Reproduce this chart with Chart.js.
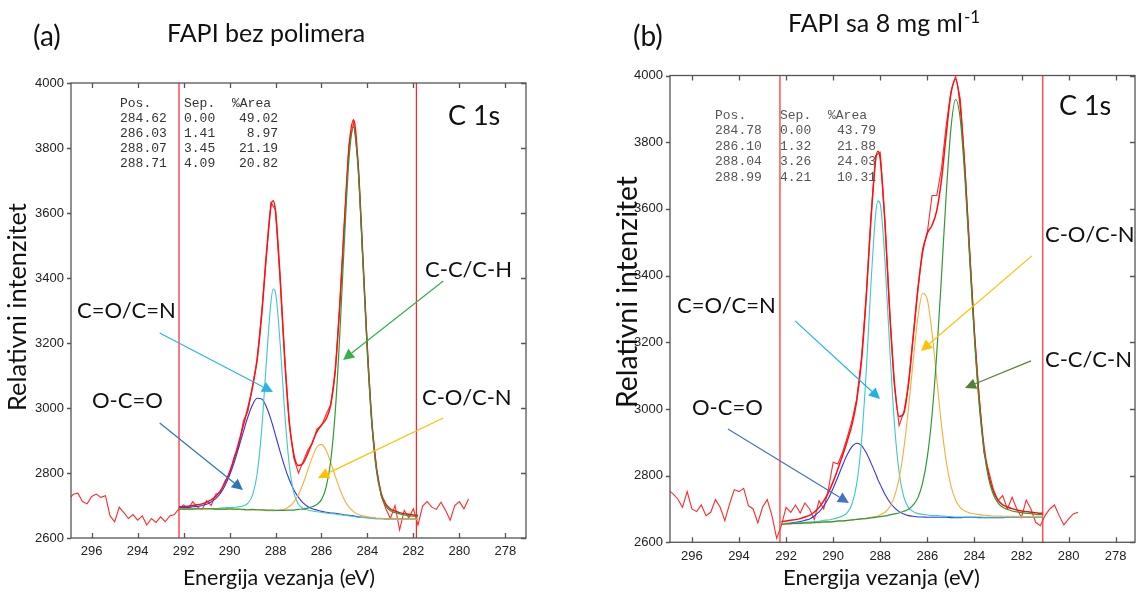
<!DOCTYPE html>
<html>
<head>
<meta charset="utf-8">
<script src="https://cdn.jsdelivr.net/npm/chart.js@4.4.1/dist/chart.umd.min.js"></script>
<style>
  html, body { margin: 0; padding: 0; background: #fff; }
  #wrap { position: relative; width: 1136px; height: 592px; overflow: hidden; }
  #wrap canvas { position: absolute; top: 0; }
</style>
</head>
<body>
<div id="wrap">
  <canvas id="chartA" width="560" height="592" style="left:0px"></canvas>
  <canvas id="chartB" width="536" height="592" style="left:600px"></canvas>
</div>
<script>
// ---- data (a) FAPI bez polimera ----
const energyA = [292.2,292.0,291.8,291.6,291.4,291.2,291.0,290.8,290.6,290.4,290.2,290.0,289.8,289.6,289.4,289.2,289.0,288.8,288.6,288.4,288.2,288.1,288.0,287.8,287.6,287.4,287.2,287.0,286.8,286.6,286.4,286.2,286.0,285.8,285.6,285.4,285.2,285.0,284.8,284.6,284.4,284.2,284.0,283.8,283.6,283.4,283.2,283.0,282.8,282.6,282.4,282.2,282.0,281.8];
const greenA = [2689,2689,2689,2689,2690,2690,2690,2690,2689,2689,2689,2690,2689,2689,2688,2687,2688,2687,2687,2686,2686,2686,2685,2685,2685,2686,2686,2688,2689,2692,2696,2703,2718,2756,2836,2989,3230,3519,3768,3864,3729,3453,3166,2943,2803,2731,2698,2684,2678,2674,2671,2669,2667,2666];
const orangeA = [2689,2689,2689,2689,2689,2689,2689,2689,2688,2688,2688,2688,2687,2688,2687,2686,2686,2686,2685,2684,2684,2684,2684,2686,2689,2697,2711,2734,2767,2808,2848,2880,2888,2870,2833,2790,2750,2717,2695,2681,2672,2668,2665,2663,2661,2661,2659,2659,2659,2659,2658,2658,2658,2658];
const cyanA = [2690,2690,2690,2690,2690,2691,2691,2691,2691,2692,2693,2694,2694,2696,2699,2707,2732,2797,2935,3139,3325,3366,3355,3200,2986,2824,2738,2704,2691,2686,2683,2681,2679,2677,2675,2674,2672,2670,2668,2666,2664,2663,2662,2660,2659,2659,2658,2658,2658,2658,2658,2658,2658,2658];
const blueA = [2693,2694,2694,2696,2697,2700,2704,2711,2721,2737,2761,2793,2832,2879,2927,2973,3010,3030,3028,3004,2965,2941,2916,2866,2819,2779,2748,2725,2708,2697,2690,2686,2682,2679,2677,2676,2674,2671,2670,2668,2665,2664,2663,2662,2660,2660,2659,2659,2659,2659,2659,2658,2658,2658];
const envelopeA = [2696,2697,2698,2700,2702,2705,2710,2717,2728,2745,2770,2803,2844,2894,2946,3001,3064,3151,3288,3471,3620,3638,3604,3403,3149,2957,2856,2823,2830,2859,2894,2927,2948,2966,3009,3118,3319,3576,3804,3887,3744,3465,3175,2951,2810,2737,2704,2689,2683,2678,2675,2673,2671,2670];
const rawA = [2718,2735,2738,2712,2705,2728,2735,2725,2730,2668,2650,2695,2678,2660,2672,2655,2668,2640,2660,2648,2665,2650,2668,2672,2690,
  2702,2690,2712,2695,2688,2715,2700,2735,2740,2775,2795,2850,2880,2960,2990,3070,3145,3295,3465,3632,3610,3395,3155,2950,2845,2800,2835,2870,2890,2935,
  2945,2980,3010,3110,3325,3570,3810,3880,3750,3460,3180,2945,2815,2730,2690,2660,2700,2625,2685,2662,2690,2640,
  2698,2712,2695,2688,2710,2685,2655,2700,2712,2690,2720];
const regionA = [292.2, 281.87];
const posA = ['284.62', '286.03', '288.07', '288.71'];
const sepA = ['0.00', '1.41', '3.45', '4.09'];
const areaA = ['49.02', '8.97', '21.19', '20.82'];

// ---- data (b) FAPI sa 8 mg ml-1 ----
const energyB = [292.2,292.0,291.8,291.6,291.4,291.2,291.0,290.8,290.6,290.4,290.2,290.0,289.8,289.6,289.4,289.2,289.0,288.8,288.6,288.4,288.2,288.1,288.0,287.8,287.6,287.4,287.2,287.0,286.8,286.6,286.4,286.2,286.0,285.8,285.6,285.4,285.2,285.0,284.8,284.6,284.4,284.2,284.0,283.8,283.6,283.4,283.2,283.0,282.8,282.6,282.4,282.2,282.0,281.8,281.6,281.4,281.2,281.1];
const greenB = [2654,2655,2656,2657,2657,2658,2658,2659,2660,2661,2661,2662,2664,2664,2666,2667,2669,2670,2671,2673,2675,2676,2677,2679,2682,2685,2688,2693,2699,2712,2734,2778,2856,2982,3166,3396,3641,3840,3928,3868,3688,3447,3212,3016,2879,2792,2744,2718,2705,2699,2694,2691,2689,2687,2686,2684,2683,2683];
const orangeB = [2654,2655,2655,2656,2656,2657,2657,2659,2659,2660,2660,2662,2663,2664,2665,2667,2669,2671,2672,2675,2678,2679,2683,2690,2706,2737,2791,2880,3002,3145,3274,3346,3328,3228,3090,2953,2844,2770,2727,2704,2694,2688,2685,2683,2681,2680,2679,2679,2678,2678,2678,2678,2677,2677,2677,2677,2676,2676];
const cyanB = [2655,2656,2656,2658,2658,2660,2661,2662,2663,2666,2667,2670,2674,2679,2689,2715,2775,2900,3107,3367,3580,3624,3614,3444,3186,2958,2810,2736,2704,2692,2686,2684,2682,2680,2680,2679,2678,2677,2676,2676,2676,2676,2676,2676,2675,2675,2675,2675,2675,2675,2675,2675,2675,2675,2675,2675,2675,2675];
const blueB = [2656,2657,2658,2660,2662,2666,2670,2679,2691,2709,2732,2762,2796,2831,2863,2887,2897,2891,2869,2839,2806,2788,2773,2744,2721,2704,2692,2685,2680,2678,2676,2676,2675,2675,2675,2675,2675,2674,2674,2674,2675,2675,2675,2674,2674,2674,2674,2674,2674,2675,2675,2675,2675,2675,2675,2675,2675,2675];
const envelopeB = [2662,2664,2666,2668,2671,2676,2681,2691,2704,2724,2749,2782,2820,2860,2904,2953,3024,3143,3330,3562,3743,3773,3749,3558,3294,3080,2977,2987,3078,3216,3360,3471,3527,3551,3595,3687,3821,3945,3989,3906,3714,3467,3228,3030,2891,2803,2753,2727,2712,2706,2701,2697,2694,2692,2690,2689,2687,2687];
const rawB = [2757,2745,2730,2705,2752,2700,2692,2712,2680,2690,2728,2705,2665,2715,2758,2752,2762,2710,2700,2658,2705,2728,2680,2612,
  2650,2705,2690,2712,2688,2718,2700,2668,2725,2700,2760,2840,2835,2870,2915,2965,3030,3150,3335,3570,
  3760,3770,3560,3290,3070,2950,2990,3070,3220,3360,3480,3530,3640,3640,3720,3850,3950,3998,3930,3720,
  3470,3230,3040,2870,2815,2760,2725,2740,2700,2735,2700,2675,2727,2700,2660,2650,
  2680,2700,2712,2680,2652,2670,2685,2690];
const regionB = [292.26, 281.1];
const posB = ['284.78', '286.10', '288.04', '288.99'];
const sepB = ['0.00', '1.32', '3.26', '4.21'];
const areaB = ['43.79', '21.88', '24.03', '10.31'];

// raw spectra are sampled every 0.2 eV from 297.0 eV
const rawEnergy = [];
for (let k = 0; k < 88; k++) rawEnergy.push(+(297 - 0.2 * k).toFixed(1));

const LABEL_FONT = 'Lato, "Open Sans", sans-serif';

function pts(xs, ys) { return ys.map((v, i) => ({ x: xs[i], y: v })); }
function vline(e) { return [{ x: e, y: 2600 }, { x: e, y: 4000 }]; }

// label text: either a fixed size or squeezed to a given width
function drawText(ctx, t) {
  let size = t.size;
  if (!size) {
    ctx.font = '20px ' + LABEL_FONT;
    size = 20 * t.w / ctx.measureText(t.text).width;
  }
  ctx.font = size.toFixed(2) + 'px ' + LABEL_FONT;
  ctx.fillStyle = '#111';
  ctx.textAlign = t.align || 'left';
  ctx.textBaseline = 'alphabetic';
  ctx.fillText(t.text, t.x, t.y);
  if (t.sup) {
    const w = ctx.measureText(t.text).width;
    ctx.font = t.sup.size + 'px ' + LABEL_FONT;
    ctx.textAlign = 'left';
    ctx.fillText(t.sup.text, t.x + w + 1, t.y + t.sup.dy);
  }
}

function arrow(ctx, x0, y0, x1, y1, color) {
  const ang = Math.atan2(y1 - y0, x1 - x0);
  const len = 11, half = 5.5;
  const bx = x1 - len * Math.cos(ang), by = y1 - len * Math.sin(ang);
  ctx.strokeStyle = color; ctx.fillStyle = color; ctx.lineWidth = 1.2;
  ctx.beginPath(); ctx.moveTo(x0, y0); ctx.lineTo(bx, by); ctx.stroke();
  ctx.beginPath();
  ctx.moveTo(x1, y1);
  ctx.lineTo(bx + half * Math.sin(ang), by - half * Math.cos(ang));
  ctx.lineTo(bx - half * Math.sin(ang), by + half * Math.cos(ang));
  ctx.closePath(); ctx.fill();
}

function decorPlugin(p) {
  return {
    id: 'decor',
    afterDraw(chart) {
      const ctx = chart.ctx, a = chart.chartArea;
      const xs = chart.scales.x, ys = chart.scales.y;
      ctx.save();
      // box with inward ticks (left ticks point out)
      ctx.strokeStyle = '#555'; ctx.lineWidth = 1.3;
      ctx.strokeRect(a.left, a.top, a.right - a.left, a.bottom - a.top);
      ctx.beginPath();
      xs.ticks.forEach(t => {
        const px = Math.round(xs.getPixelForValue(t.value)) + 0.5;
        ctx.moveTo(px, a.bottom); ctx.lineTo(px, a.bottom - 5);
        ctx.moveTo(px, a.top); ctx.lineTo(px, a.top + 5);
      });
      ys.ticks.forEach(t => {
        const py = Math.round(ys.getPixelForValue(t.value)) + 0.5;
        ctx.moveTo(a.left - 4, py); ctx.lineTo(a.left, py);
        ctx.moveTo(a.right, py); ctx.lineTo(a.right - 5, py);
      });
      ctx.stroke();

      // arrows, anchored in data units
      p.arrows.forEach(ar => arrow(ctx,
        xs.getPixelForValue(ar.from[0]), ys.getPixelForValue(ar.from[1]),
        xs.getPixelForValue(ar.to[0]), ys.getPixelForValue(ar.to[1]), ar.color));

      // fit table
      ctx.font = '13px "Liberation Mono", "Courier New", monospace';
      ctx.fillStyle = p.tableColor;
      ctx.textBaseline = 'alphabetic';
      const tb = p.table;
      ctx.textAlign = 'left';
      ctx.fillText('Pos.', tb.x0, tb.y);
      ctx.fillText('Sep.', tb.x1, tb.y);
      ctx.fillText('%Area', tb.x2, tb.y);
      p.pos.forEach((v, i) => {
        const y = tb.y + (i + 1) * tb.dy;
        ctx.textAlign = 'left';
        ctx.fillText(v, tb.x0, y);
        ctx.fillText(p.sep[i], tb.x1, y);
        ctx.textAlign = 'right';
        ctx.fillText(p.area[i], tb.x3, y);
      });

      // labels and titles
      p.texts.forEach(t => drawText(ctx, t));
      // y axis title
      ctx.translate(p.yTitle.x, p.yTitle.y);
      ctx.rotate(-Math.PI / 2);
      drawText(ctx, { text: 'Relativni intenzitet', x: 0, y: 0, w: p.yTitle.w, align: 'center' });
      ctx.restore();
    }
  };
}

function makeChart(id, p) {
  const comp = (data, color) => ({
    data: data, borderColor: color, borderWidth: 1.1,
    cubicInterpolationMode: 'monotone', pointRadius: 0
  });
  const datasets = [
    comp(pts(p.energy, p.green), '#2f9a35'),
    comp(pts(p.energy, p.orange), '#f8ad3a'),
    comp(pts(p.energy, p.cyan), '#3cc9c9'),
    comp(pts(p.energy, p.blue), '#3434f0'),
    comp(pts(p.energy, p.envelope), '#ff1010'),
    { data: pts(rawEnergy, p.raw), borderColor: '#ff2a2a', borderWidth: 1.1, tension: 0, pointRadius: 0 },
    { data: vline(p.region[0]), borderColor: p.vColor, borderWidth: p.vWidth, tension: 0, pointRadius: 0 },
    { data: vline(p.region[1]), borderColor: p.vColor, borderWidth: p.vWidth, tension: 0, pointRadius: 0 }
  ];
  datasets[4].borderWidth = 1.5;
  datasets[0].borderWidth = 1.2;

  return new Chart(document.getElementById(id).getContext('2d'), {
    type: 'line',
    data: { datasets: datasets },
    options: {
      responsive: false,
      maintainAspectRatio: false,
      animation: false,
      devicePixelRatio: 1,
      layout: { padding: { left: 0, right: p.padRight, top: p.padTop, bottom: 0 } },
      plugins: { legend: { display: false }, tooltip: { enabled: false } },
      scales: {
        x: {
          type: 'linear', reverse: true, min: p.xMin, max: p.xMax,
          grid: { display: false, drawTicks: false }, border: { display: false },
          ticks: {
            stepSize: 2, includeBounds: false, autoSkip: false, maxRotation: 0,
            padding: 6, color: '#222',
            font: { family: '"Liberation Sans", Arial, sans-serif', size: 13 },
            callback: v => v.toFixed(0)
          },
          afterFit: s => { s.height = p.xHeight; }
        },
        y: {
          type: 'linear', min: 2600, max: 4000,
          grid: { display: false, drawTicks: false }, border: { display: false },
          ticks: {
            stepSize: 200, padding: 7, color: '#222',
            font: { family: '"Liberation Sans", Arial, sans-serif', size: 13 },
            callback: v => v.toFixed(0)
          },
          afterFit: s => { s.width = p.yWidth; }
        }
      }
    },
    plugins: [decorPlugin(p)]
  });
}

makeChart('chartA', {
  energy: energyA, green: greenA, orange: orangeA, cyan: cyanA, blue: blueA,
  envelope: envelopeA, raw: rawA, region: regionA,
  pos: posA, sep: sepA, area: areaA,
  vColor: '#ff2020', vWidth: 1.2,
  xMin: 277.1, xMax: 296.9, padRight: 34, padTop: 83, yWidth: 71, xHeight: 54,
  tableColor: '#333',
  table: { x0: 120, x1: 184, x2: 232, x3: 278, y: 107, dy: 15 },
  arrows: [
    { from: [293.04, 3231], to: [288.11, 3049], color: '#2ab4e6' },
    { from: [293.04, 2954], to: [289.42, 2748], color: '#2e75b6' },
    { from: [280.70, 3391], to: [285.06, 3148], color: '#34b04c' },
    { from: [280.70, 2969], to: [286.15, 2785], color: '#ffc000' }
  ],
  texts: [
    { text: '(a)', x: 33, y: 46, size: 28 },
    { text: 'FAPI bez polimera', x: 167, y: 42, size: 25 },
    { text: 'C 1s', x: 448, y: 125, size: 27 },
    { text: 'C-C/C-H', x: 512, y: 277, size: 22, align: 'right' },
    { text: 'C=O/C=N', x: 77, y: 318, size: 22 },
    { text: 'O-C=O', x: 92, y: 408, size: 22 },
    { text: 'C-O/C-N', x: 422, y: 405, size: 22 },
    { text: 'Energija vezanja (eV)', x: 183, y: 585, w: 192 }
  ],
  yTitle: { x: 26, y: 307, w: 208 }
});

makeChart('chartB', {
  energy: energyB, green: greenB, orange: orangeB, cyan: cyanB, blue: blueB,
  envelope: envelopeB, raw: rawB, region: regionB,
  pos: posB, sep: sepB, area: areaB,
  vColor: '#ff5050', vWidth: 1.5,
  xMin: 277.18, xMax: 296.93, padRight: 1, padTop: 75.5, yWidth: 70, xHeight: 49.7,
  tableColor: '#555',
  table: { x0: 115, x1: 180, x2: 228, x3: 276, y: 119, dy: 15.4 },
  arrows: [
    { from: [291.62, 3264], to: [288.01, 3030], color: '#1fb1e8' },
    { from: [294.47, 2940], to: [289.33, 2718], color: '#4472c4' },
    { from: [281.56, 3459], to: [286.27, 3174], color: '#ffc000' },
    { from: [281.60, 3144], to: [284.40, 3063], color: '#548235' }
  ],
  texts: [
    { text: '(b)', x: 33, y: 46, size: 28 },
    { text: 'FAPI sa 8 mg ml', x: 188, y: 32, size: 25, sup: { text: '-1', size: 17, dy: -9 } },
    { text: 'C 1s', x: 459, y: 115, size: 27 },
    { text: 'C-O/C-N', x: 445, y: 242, size: 22 },
    { text: 'C-C/C-N', x: 445, y: 367, size: 22 },
    { text: 'C=O/C=N', x: 77, y: 313, size: 22 },
    { text: 'O-C=O', x: 92, y: 415, size: 22 },
    { text: 'Energija vezanja (eV)', x: 183, y: 585, w: 197 }
  ],
  yTitle: { x: 37, y: 292, w: 232 }
});
</script>
</body>
</html>
